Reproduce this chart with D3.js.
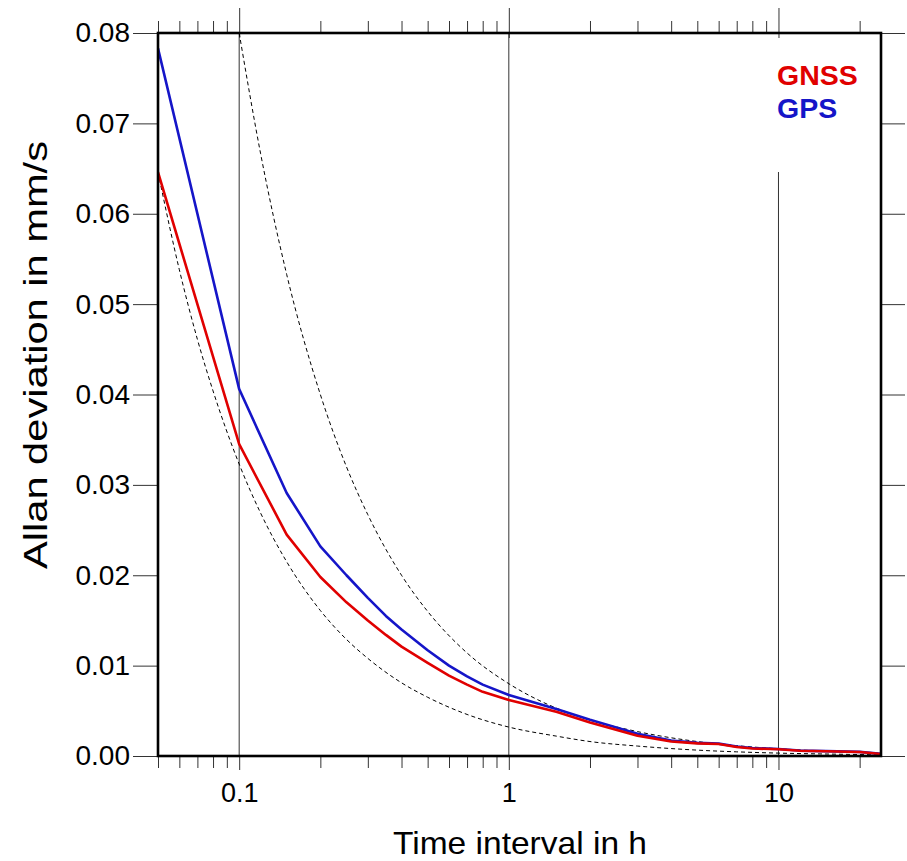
<!DOCTYPE html>
<html>
<head>
<meta charset="utf-8">
<script src="https://cdn.jsdelivr.net/npm/d3@7"></script>
<style>
  html, body { margin: 0; padding: 0; background: #fff; }
  svg { display: block; font-family: "Liberation Sans", Arial, Helvetica, sans-serif; }
</style>
</head>
<body>
<svg id="chart" width="907" height="861"></svg>
<script>
// time interval in hours
var aTau = [0.05, 0.1, 0.15, 0.2, 0.25, 0.3, 0.35, 0.4, 0.5, 0.6, 0.7, 0.8, 1, 1.5, 2, 3, 4, 5, 6, 7, 8, 10, 12, 15, 20, 24];
// Allan deviation in mm/s
var aGnss = [0.0646, 0.0345, 0.0245, 0.0198, 0.0170, 0.0150, 0.0134, 0.0121, 0.0103, 0.0089, 0.0079, 0.0071, 0.0062, 0.0049, 0.0037, 0.00225, 0.0016, 0.0014, 0.00133, 0.0010, 0.00083, 0.00074, 0.00058, 0.00052, 0.00044, 0.00022];
var aGps = [0.0783, 0.0406, 0.0291, 0.0232, 0.0200, 0.0175, 0.0155, 0.0140, 0.0117, 0.0100, 0.0088, 0.0079, 0.00675, 0.0052, 0.0040, 0.00246, 0.0017, 0.00145, 0.00137, 0.00105, 0.00088, 0.00078, 0.0006, 0.00054, 0.00046, 0.00024];

// dashed reference curves
var aRefTau = [0.05, 0.06, 0.07, 0.08, 0.1, 0.12, 0.15, 0.2, 0.25, 0.3, 0.4, 0.5, 0.7, 1, 1.5, 2, 3, 5, 7, 10, 15, 24];
var aRefUpper = [null, null, null, null, 0.080, 0.0667, 0.0533, 0.040, 0.032, 0.0267, 0.020, 0.016, 0.0114, 0.008, 0.0053, 0.004, 0.0027, 0.0016, 0.00114, 0.0008, 0.00053, 0.00033];
var aRefLower = [0.0646, 0.0538, 0.0461, 0.0404, 0.0323, 0.0269, 0.0215, 0.0161, 0.0129, 0.0108, 0.0081, 0.0065, 0.0046, 0.0032, 0.0022, 0.0016, 0.0011, 0.00065, 0.00046, 0.00032, 0.00022, 0.00013];

var aYTicks = [0, 0.01, 0.02, 0.03, 0.04, 0.05, 0.06, 0.07, 0.08];
var aXMajor = [0.1, 1, 10];
var aXMinor = [0.05, 0.06, 0.07, 0.08, 0.09, 0.2, 0.3, 0.4, 0.5, 0.6, 0.7, 0.8, 0.9, 2, 3, 4, 5, 6, 7, 8, 9, 20];
var aLegend = ["GNSS", "GPS"];
var aColors = ["#e00000", "#1515c8"];

var iLeft = 158, iRight = 881, iTop = 33, iBottom = 756;

var svg = d3.select("#chart");

var x = d3.scaleLog().domain([0.05, 24]).range([iLeft, iRight]);
var y = d3.scaleLinear().domain([0, 0.08]).range([iBottom, iTop]);

svg.append("defs").append("clipPath").attr("id", "plotClip")
  .append("rect")
  .attr("x", iLeft).attr("y", iTop)
  .attr("width", iRight - iLeft).attr("height", iBottom - iTop);

// vertical grid lines at decades (the one at 10 stops below the legend)
svg.selectAll("line.grid").data(aXMajor).enter()
  .append("line")
  .attr("class", "grid")
  .attr("x1", function (d) { return x(d); })
  .attr("x2", function (d) { return x(d); })
  .attr("y1", function (d) { return d === 10 ? 172 : iTop; })
  .attr("y2", iBottom)
  .attr("stroke", "#333").attr("stroke-width", 1);

function styleAxis(sel) {
  sel.select(".domain").remove();
  sel.selectAll(".tick line").attr("stroke", "#333").attr("stroke-width", 1);
  sel.selectAll(".tick text").attr("fill", "#000");
}

// left axis with labels
svg.append("g")
  .attr("transform", "translate(" + iLeft + ",0)")
  .call(d3.axisLeft(y).tickValues(aYTicks).tickFormat(d3.format(".2f")).tickSize(25).tickPadding(3))
  .call(styleAxis)
  .call(function (g) { g.selectAll("text").attr("font-size", 28).attr("font-family", null); });

// right axis, ticks only
svg.append("g")
  .attr("transform", "translate(" + iRight + ",0)")
  .call(d3.axisRight(y).tickValues(aYTicks).tickFormat("").tickSize(24))
  .call(styleAxis);

// bottom axis
svg.append("g")
  .attr("transform", "translate(0," + iBottom + ")")
  .call(d3.axisBottom(x).tickValues(aXMinor).tickFormat("").tickSize(12))
  .call(styleAxis);
svg.append("g")
  .attr("transform", "translate(0," + iBottom + ")")
  .call(d3.axisBottom(x).tickValues(aXMajor).tickFormat(d3.format("~g")).tickSize(14).tickPadding(13))
  .call(styleAxis)
  .call(function (g) { g.selectAll("text").attr("font-size", 27).attr("font-family", null); });

// top axis
svg.append("g")
  .attr("transform", "translate(0," + iTop + ")")
  .call(d3.axisTop(x).tickValues(aXMinor).tickFormat("").tickSize(12))
  .call(styleAxis);
svg.append("g")
  .attr("transform", "translate(0," + (iTop + 5) + ")")
  .call(d3.axisTop(x).tickValues(aXMajor).tickFormat("").tickSize(30))
  .call(styleAxis);

// dashed reference curves
var lineRef = d3.line()
  .defined(function (d) { return d[1] !== null; })
  .x(function (d) { return x(d[0]); })
  .y(function (d) { return y(d[1]); })
  .curve(d3.curveMonotoneX);

[aRefUpper, aRefLower].forEach(function (aVals) {
  svg.append("path")
    .datum(aRefTau.map(function (t, i) { return [t, aVals[i]]; }))
    .attr("clip-path", "url(#plotClip)")
    .attr("d", lineRef)
    .attr("fill", "none")
    .attr("stroke", "#000")
    .attr("stroke-width", 1)
    .attr("stroke-dasharray", "4,3");
});

// data curves
var line = d3.line()
  .x(function (d) { return x(d[0]); })
  .y(function (d) { return y(d[1]); });

[aGps, aGnss].forEach(function (aVals, i) {
  svg.append("path")
    .datum(aTau.map(function (t, j) { return [t, aVals[j]]; }))
    .attr("clip-path", "url(#plotClip)")
    .attr("d", line)
    .attr("fill", "none")
    .attr("stroke", aColors[1 - i])
    .attr("stroke-width", 2.6)
    .attr("stroke-linejoin", "round");
});

// frame
svg.append("rect")
  .attr("x", iLeft).attr("y", iTop)
  .attr("width", iRight - iLeft).attr("height", iBottom - iTop)
  .attr("fill", "none").attr("stroke", "#000").attr("stroke-width", 2.6);

// legend
svg.selectAll("text.legend").data(aLegend).enter()
  .append("text")
  .attr("class", "legend")
  .attr("x", 777)
  .attr("y", function (d, i) { return 85 + i * 33; })
  .attr("font-size", 28.5)
  .attr("font-weight", "bold")
  .attr("fill", function (d, i) { return aColors[i]; })
  .text(function (d) { return d; });

// axis titles
svg.append("text")
  .attr("x", 520).attr("y", 854)
  .attr("text-anchor", "middle")
  .attr("font-size", 32)
  .attr("textLength", 254)
  .attr("lengthAdjust", "spacingAndGlyphs")
  .text("Time interval in h");

svg.append("text")
  .attr("transform", "translate(47,355) rotate(-90)")
  .attr("text-anchor", "middle")
  .attr("font-size", 34)
  .attr("textLength", 428)
  .attr("lengthAdjust", "spacingAndGlyphs")
  .text("Allan deviation in mm/s");
</script>
</body>
</html>
